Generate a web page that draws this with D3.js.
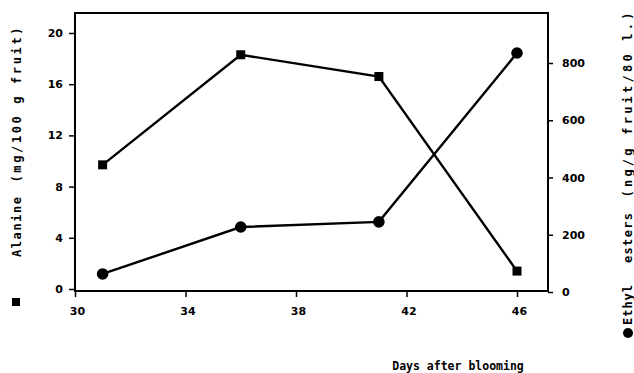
<!DOCTYPE html>
<html>
<head>
<meta charset="utf-8">
<script src="https://cdn.jsdelivr.net/npm/d3@7"></script>
<style>
  body { margin: 0; background: #fff; }
  svg { display: block; }
  .tick text { font-family: "DejaVu Sans", sans-serif; font-weight: bold; font-size: 11px; fill: #000; }
  .tick line { stroke: #000; stroke-width: 1.5; }
  .lbl { font-family: "DejaVu Sans Mono", monospace; font-weight: bold; fill: #000; }
</style>
</head>
<body>
<div id="chart"></div>
<script>
// days after blooming
const days = [31, 36, 41, 46];
// alanine, mg/100 g fruit (left axis, squares)
const alanine = [9.7, 18.3, 16.6, 1.4];
// ethyl esters, ng/g fruit/80 l. (right axis, circles)
const ethylEsters = [63, 227, 245, 835];

const xTicks = [30, 34, 38, 42, 46];
const leftTicks = [0, 4, 8, 12, 16, 20];
const rightTicks = [0, 200, 400, 600, 800];

const width = 634, height = 373;
const frame = { left: 75, right: 548, top: 13, bottom: 291 };

let svg = d3.select("#chart").append("svg")
  .attr("width", width)
  .attr("height", height);

let x = d3.scaleLinear().domain([30, 46]).range([75, 517]);
let yL = d3.scaleLinear().domain([0, 20]).range([289, 33]);
let yR = d3.scaleLinear().domain([0, 800]).range([292, 63]);

// frame
svg.append("rect")
  .attr("x", frame.left)
  .attr("y", frame.top)
  .attr("width", frame.right - frame.left)
  .attr("height", frame.bottom - frame.top)
  .attr("fill", "none")
  .attr("stroke", "#000")
  .attr("stroke-width", 2);

// axes (tick marks only, frame draws the domain)
let gx = svg.append("g")
  .attr("transform", "translate(0," + frame.bottom + ")")
  .call(d3.axisBottom(x).tickValues(xTicks).tickSize(6).tickPadding(10).tickFormat(d3.format("d")));
gx.select(".domain").remove();
gx.selectAll(".tick text").attr("dx", 2);

let gl = svg.append("g")
  .attr("transform", "translate(" + frame.left + ",0)")
  .call(d3.axisLeft(yL).tickValues(leftTicks).tickSize(6).tickPadding(6).tickFormat(d3.format("d")));
gl.select(".domain").remove();

let gr = svg.append("g")
  .attr("transform", "translate(" + frame.right + ",0)")
  .call(d3.axisRight(yR).tickValues(rightTicks).tickSize(5).tickPadding(9).tickFormat(d3.format("d")));
gr.select(".domain").remove();

// lines
let lineL = d3.line()
  .x(function(d, i) { return x(days[i]); })
  .y(function(d) { return yL(d); });
let lineR = d3.line()
  .x(function(d, i) { return x(days[i]); })
  .y(function(d) { return yR(d); });

svg.append("path")
  .attr("d", lineL(alanine))
  .attr("fill", "none")
  .attr("stroke", "#000")
  .attr("stroke-width", 2.4);

svg.append("path")
  .attr("d", lineR(ethylEsters))
  .attr("fill", "none")
  .attr("stroke", "#000")
  .attr("stroke-width", 2.4);

// markers
let sq = 9;
svg.selectAll("rect.sq")
  .data(alanine)
  .enter().append("rect")
  .attr("class", "sq")
  .attr("x", function(d, i) { return x(days[i]) - sq / 2; })
  .attr("y", function(d) { return yL(d) - sq / 2; })
  .attr("width", sq)
  .attr("height", sq)
  .attr("fill", "#000");

svg.selectAll("circle.pt")
  .data(ethylEsters)
  .enter().append("circle")
  .attr("class", "pt")
  .attr("cx", function(d, i) { return x(days[i]); })
  .attr("cy", function(d) { return yR(d); })
  .attr("r", 5.8)
  .attr("fill", "#000");

// x axis title
svg.append("text")
  .attr("class", "lbl")
  .attr("x", 458)
  .attr("y", 370)
  .attr("text-anchor", "middle")
  .style("font-size", "11.5px")
  .text("Days after blooming");

// left axis title
let lt = svg.append("g").attr("transform", "translate(21,0) rotate(-90)");
lt.append("rect")
  .attr("x", -306).attr("y", -9)
  .attr("width", 8).attr("height", 8)
  .attr("fill", "#000");
lt.append("text")
  .attr("class", "lbl")
  .attr("x", -227).attr("y", 0)
  .attr("text-anchor", "middle")
  .style("font-size", "12px")
  .attr("textLength", 60)
  .text("Alanine");
lt.append("text")
  .attr("class", "lbl")
  .attr("x", -105).attr("y", 0)
  .attr("text-anchor", "middle")
  .style("font-size", "12px")
  .attr("textLength", 155)
  .text("(mg/100 g fruit)");

// right axis title
let rt = svg.append("g").attr("transform", "translate(632,0) rotate(-90)");
rt.append("circle")
  .attr("cx", -333).attr("cy", -4)
  .attr("r", 5)
  .attr("fill", "#000");
rt.append("text")
  .attr("class", "lbl")
  .attr("x", -305).attr("y", 0)
  .attr("text-anchor", "middle")
  .style("font-size", "12px")
  .attr("textLength", 40)
  .text("Ethyl");
rt.append("text")
  .attr("class", "lbl")
  .attr("x", -238).attr("y", 0)
  .attr("text-anchor", "middle")
  .style("font-size", "12px")
  .attr("textLength", 50)
  .text("esters");
rt.append("text")
  .attr("class", "lbl")
  .attr("x", -105).attr("y", 0)
  .attr("text-anchor", "middle")
  .style("font-size", "12px")
  .attr("textLength", 185)
  .text("(ng/g fruit/80 l.)");
</script>
</body>
</html>
